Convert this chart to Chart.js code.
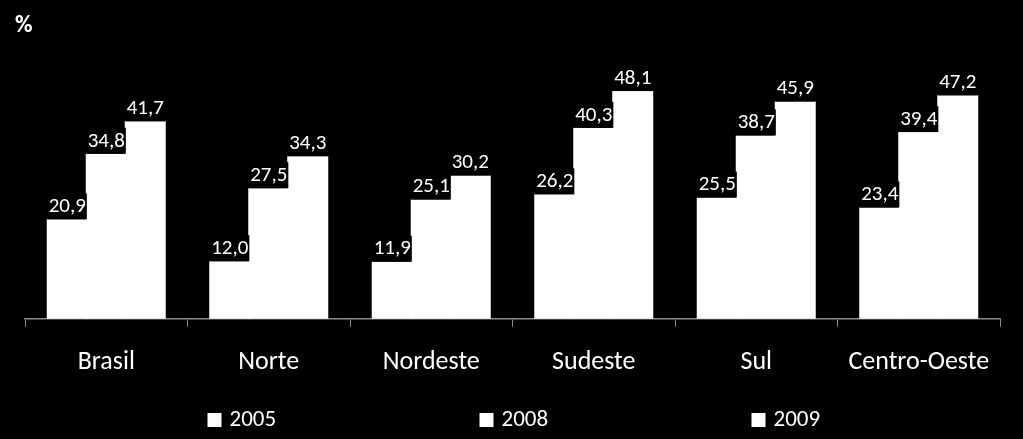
<!DOCTYPE html>
<html>
<head>
<meta charset="utf-8">
<script src="https://cdn.jsdelivr.net/npm/chart.js@4/dist/chart.umd.min.js"></script>
<style>
  html, body { margin: 0; padding: 0; background: #000; }
  #wrap { width: 1023px; height: 439px; }
</style>
</head>
<body>
<div id="wrap"><canvas id="regionChart"></canvas></div>
<script>
const regions = ["Brasil", "Norte", "Nordeste", "Sudeste", "Sul", "Centro-Oeste"];
const years = ["2005", "2008", "2009"];
const values2005 = [20.9, 12.0, 11.9, 26.2, 25.5, 23.4];
const values2008 = [34.8, 27.5, 25.1, 40.3, 38.7, 39.4];
const values2009 = [41.7, 34.3, 30.2, 48.1, 45.9, 47.2];
const unitLabel = "%";

const FONT = "Carlito, Lato, sans-serif";

// value labels with a black box behind them, the "%" caption and the spread-out legend
const labelPlugin = {
    id: "valueLabels",
    afterDatasetsDraw(chart) {
        const ctx = chart.ctx;
        ctx.save();
        ctx.font = "21px " + FONT;
        ctx.textAlign = "center";
        ctx.textBaseline = "bottom";
        chart.data.datasets.forEach((ds, i) => {
            chart.getDatasetMeta(i).data.forEach((bar, j) => {
                let txt = ds.data[j].toFixed(1).replace(".", ",");
                let w = ctx.measureText(txt).width;
                ctx.fillStyle = "#000";
                ctx.fillRect(bar.x - w / 2 - 1, bar.y - 27, w + 2, 26);
                ctx.fillStyle = "#fff";
                ctx.fillText(txt, bar.x, bar.y - 3);
            });
        });
        ctx.font = "bold 24px " + FONT;
        ctx.textAlign = "left";
        ctx.textBaseline = "middle";
        ctx.fillStyle = "#fff";
        ctx.fillText(unitLabel, 15, 26);

        // legend
        ctx.font = "23px " + FONT;
        let start = chart.width / 2 - 304;
        chart.data.datasets.forEach((ds, i) => {
            let x = start + i * 272;
            let y = 420;
            ctx.fillStyle = ds.backgroundColor;
            ctx.fillRect(x, y - 7, 14, 14);
            ctx.fillStyle = "#fff";
            ctx.fillText(ds.label, x + 22, y);
        });
        ctx.restore();
    }
};

new Chart(document.getElementById("regionChart"), {
    type: "bar",
    data: {
        labels: regions,
        datasets: [
            { label: years[0], data: values2005, backgroundColor: "#fff" },
            { label: years[1], data: values2008, backgroundColor: "#fff" },
            { label: years[2], data: values2009, backgroundColor: "#fff" }
        ]
    },
    options: {
        responsive: true,
        maintainAspectRatio: false,
        animation: false,
        layout: { padding: { left: 25, right: 23, top: 36, bottom: 41 } },
        datasets: {
            bar: { categoryPercentage: 0.72, barPercentage: 1.0, borderWidth: 0, inflateAmount: 1 }
        },
        scales: {
            x: {
                grid: { display: true, drawOnChartArea: false, color: "#8c8c8c", tickLength: 8, offset: true },
                border: { color: "#8c8c8c", width: 1.5 },
                ticks: { color: "#fff", font: { family: FONT, size: 26 }, padding: 20 }
            },
            y: { display: false, min: 0, max: 60 }
        },
        plugins: {
            legend: { display: false },
            tooltip: { enabled: false }
        }
    },
    plugins: [labelPlugin]
});
</script>
</body>
</html>
